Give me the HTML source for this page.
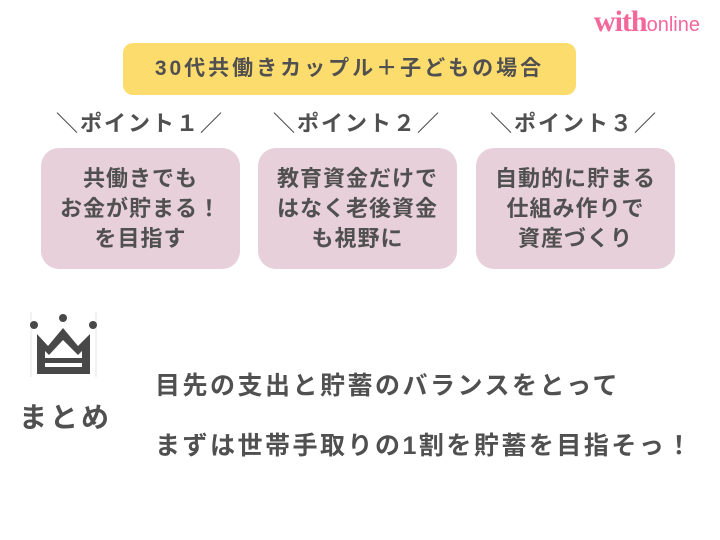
<!DOCTYPE html>
<html><head><meta charset="utf-8"><style>
body{margin:0;width:720px;height:540px;background:#fff;position:relative;overflow:hidden;font-family:"Liberation Sans","Noto Sans CJK JP",sans-serif;color:#505050;font-weight:bold}
.a{position:absolute}
.banner{left:123px;top:43px;width:453px;height:52px;background:#fddc6e;border-radius:10px;text-align:center;line-height:52px;font-size:21px;letter-spacing:3px}
.pt{top:109px;width:200px;text-align:center;font-size:22px;line-height:30px;letter-spacing:2px;white-space:nowrap}
.box{top:148px;width:199px;height:121px;background:#e8d0da;border-radius:18px;text-align:center;font-size:22px;line-height:30px;padding-top:16px;box-sizing:border-box;letter-spacing:1px;white-space:nowrap}
.l{left:155px;font-size:25px;letter-spacing:2.5px;white-space:nowrap}
</style></head><body>
<div class="a" style="right:20px;top:5px;color:#f4679a;font-weight:normal;white-space:nowrap"><span style="font-family:'Liberation Serif',serif;font-weight:bold;font-size:30px;letter-spacing:-1px">with</span><span style="font-size:20px">online</span></div>
<div class="a banner">30代共働きカップル＋子どもの場合</div>
<div class="a pt" style="left:40px">＼ポイント１／</div>
<div class="a pt" style="left:257px">＼ポイント２／</div>
<div class="a pt" style="left:474px">＼ポイント３／</div>
<div class="a box" style="left:41px">共働きでも<br>お金が貯まる！<br>を目指す</div>
<div class="a box" style="left:258px">教育資金だけで<br>はなく老後資金<br>も視野に</div>
<div class="a box" style="left:476px">自動的に貯まる<br>仕組み作りで<br>資産づくり</div>
<svg class="a" style="left:0;top:300px" width="140" height="100">
<line x1="31" y1="12" x2="31" y2="77" stroke="#e6e6e6"/><line x1="96" y1="12" x2="96" y2="77" stroke="#e6e6e6"/>
<circle cx="34" cy="25" r="4" fill="#484848"/><circle cx="63" cy="18" r="4" fill="#484848"/><circle cx="93" cy="25" r="4" fill="#484848"/>
<path d="M37 34 L48 46 L63 28 L78 46 L90 34 L90 74 L37 74 Z M45 51 L45 58 L82 58 L82 51 L78 55 L63 40 L49 55 Z M45 63 L45 67 L82 67 L82 63 Z" fill="#484848" fill-rule="evenodd"/>
</svg>
<div class="a" style="left:19px;top:396px;font-size:28px;letter-spacing:3px">まとめ</div>
<div class="a l" style="top:366px">目先の支出と貯蓄のバランスをとって</div>
<div class="a l" style="top:426px">まずは世帯手取りの1割を貯蓄を目指そっ！</div>
</body></html>
